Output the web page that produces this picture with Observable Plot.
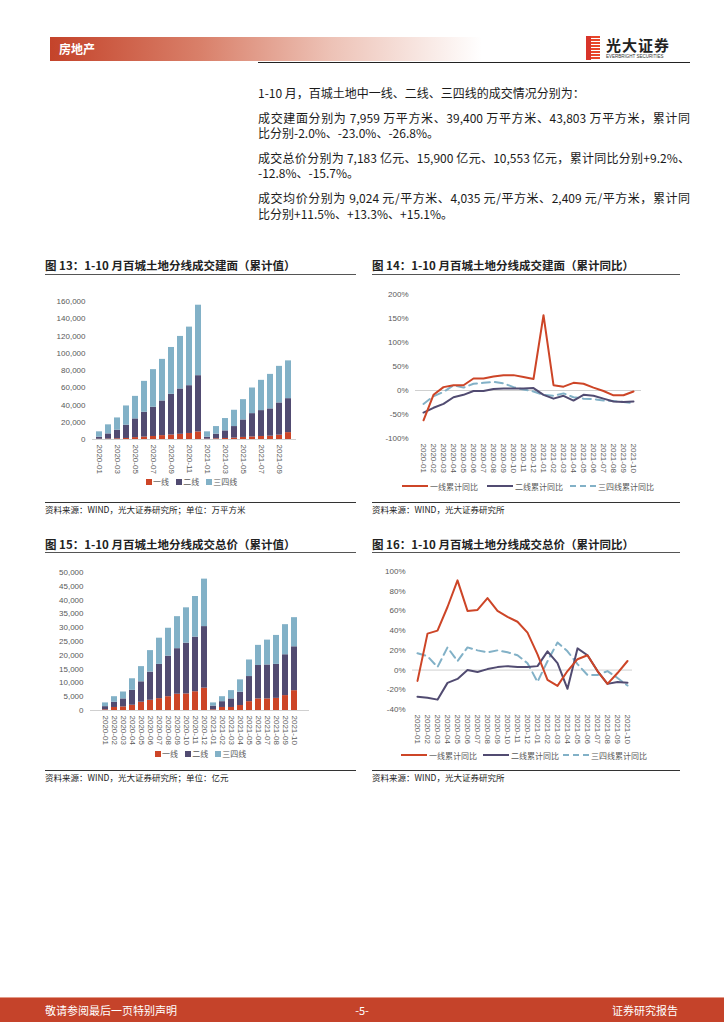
<!DOCTYPE html>
<html><head><meta charset="utf-8">
<script src="https://cdn.jsdelivr.net/npm/d3@7"></script>
<script src="https://cdn.jsdelivr.net/npm/@observablehq/plot@0.6"></script>
<style>
body{margin:0;background:#fff;}
#page{position:relative;width:724px;height:1024px;overflow:hidden;font-family:"Noto Sans CJK SC","Noto Sans",sans-serif;color:#1a1a1a;}
.abs{position:absolute;}
.p{position:absolute;left:258px;font-size:12px;line-height:16px;white-space:nowrap;}
.j{width:432px;text-align:justify;text-align-last:justify;white-space:normal;}
.title{position:absolute;font-size:11.5px;font-weight:bold;color:#222;white-space:nowrap;line-height:16px;}
.hr{position:absolute;height:1px;background:#555;}
.src{position:absolute;font-size:8.5px;color:#222;white-space:nowrap;line-height:12px;}
.leg{position:absolute;font-size:8px;color:#595959;white-space:nowrap;line-height:10px;font-family:"Noto Sans CJK SC",sans-serif;}
.sw{display:inline-block;width:6px;height:6px;margin-right:1px;vertical-align:0px;}
.ln{display:inline-block;width:26px;height:0;vertical-align:3px;margin-right:2px;}
</style></head>
<body><div id="page">
<!-- header -->
<div class="abs" style="left:50px;top:37px;width:432px;height:24px;background:linear-gradient(to right,#c4432a 0%,#d9806a 35%,#edc2b6 65%,#ffffff 100%);"></div>
<div class="abs" style="left:59px;top:41px;font-size:12px;font-weight:bold;color:#fff;line-height:16px;">房地产</div>
<div class="abs" style="left:258px;top:62px;width:432px;height:1px;background:#222;"></div>
<div class="abs" style="left:586px;top:36px;width:14px;height:24px;background:repeating-linear-gradient(to bottom,#e8462a 0px,#e8462a 2px,#ffffff 2px,#ffffff 3px);"></div>
<div class="abs" style="left:586px;top:36px;width:5px;height:24px;background:#d8342a;"></div>
<div class="abs" style="left:606px;top:37px;font-size:15px;font-weight:bold;color:#222;line-height:16px;letter-spacing:1px;">光大证券</div>
<div class="abs" style="left:606px;top:54px;font-size:4.5px;color:#333;line-height:6px;font-family:'Liberation Sans',sans-serif;">EVERBRIGHT SECURITIES</div>

<!-- paragraphs -->
<div class="p" style="top:85px;">1-10 月，百城土地中一线、二线、三四线的成交情况分别为：</div>
<div class="p j" style="top:110px;">成交建面分别为 7,959 万平方米、39,400 万平方米、43,803 万平方米，累计同</div>
<div class="p" style="top:125px;">比分别-2.0%、-23.0%、-26.8%。</div>
<div class="p j" style="top:150px;">成交总价分别为 7,183 亿元、15,900 亿元、10,553 亿元，累计同比分别+9.2%、</div>
<div class="p" style="top:165px;">-12.8%、-15.7%。</div>
<div class="p j" style="top:190px;">成交均价分别为 9,024 元/平方米、4,035 元/平方米、2,409 元/平方米，累计同</div>
<div class="p" style="top:206px;">比分别+11.5%、+13.3%、+15.1%。</div>

<!-- chart titles -->
<div class="title" style="left:45px;top:257px;">图 13：1-10 月百城土地分线成交建面（累计值）</div>
<div class="hr" style="left:45px;top:274px;width:311px;"></div>
<div class="title" style="left:372px;top:257px;">图 14：1-10 月百城土地分线成交建面（累计同比）</div>
<div class="hr" style="left:372px;top:274px;width:308px;"></div>
<div class="title" style="left:45px;top:536px;">图 15：1-10 月百城土地分线成交总价（累计值）</div>
<div class="hr" style="left:45px;top:552px;width:311px;"></div>
<div class="title" style="left:372px;top:536px;">图 16：1-10 月百城土地分线成交总价（累计同比）</div>
<div class="hr" style="left:372px;top:552px;width:308px;"></div>

<div class="abs" id="c13" style="left:40px;top:280px;"></div>
<div class="abs" id="c14" style="left:365px;top:280px;"></div>
<div class="abs" id="c15" style="left:40px;top:555px;"></div>
<div class="abs" id="c16" style="left:365px;top:555px;"></div>

<!-- legends -->
<div class="leg" style="left:146px;top:477px;"><span class="sw" style="background:#cd4527"></span>一线&nbsp;&nbsp;&nbsp;&nbsp;<span class="sw" style="background:#514b71"></span>二线&nbsp;&nbsp;&nbsp;&nbsp;<span class="sw" style="background:#82b1c7"></span>三四线</div>
<div class="leg" style="left:155px;top:749px;"><span class="sw" style="background:#cd4527"></span>一线&nbsp;&nbsp;&nbsp;&nbsp;<span class="sw" style="background:#514b71"></span>二线&nbsp;&nbsp;&nbsp;&nbsp;<span class="sw" style="background:#82b1c7"></span>三四线</div>
<div class="leg" style="left:402px;top:482px;"><span class="ln" style="border-top:2px solid #cd4527"></span>一线累计同比</div>
<div class="leg" style="left:487px;top:482px;"><span class="ln" style="border-top:2px solid #514b71"></span>二线累计同比</div>
<div class="leg" style="left:570px;top:482px;"><span class="ln" style="border-top:2px dashed #82b1c7"></span>三四线累计同比</div>
<div class="leg" style="left:401px;top:751px;"><span class="ln" style="border-top:2px solid #cd4527"></span>一线累计同比</div>
<div class="leg" style="left:483px;top:751px;"><span class="ln" style="border-top:2px solid #514b71"></span>二线累计同比</div>
<div class="leg" style="left:563px;top:751px;"><span class="ln" style="border-top:2px dashed #82b1c7"></span>三四线累计同比</div>

<!-- sources -->
<div class="hr" style="left:45px;top:502px;width:311px;background:#333;"></div>
<div class="src" style="left:45px;top:503px;">资料来源：WIND，光大证券研究所；单位：万平方米</div>
<div class="hr" style="left:372px;top:502px;width:308px;background:#333;"></div>
<div class="src" style="left:372px;top:503px;">资料来源：WIND，光大证券研究所</div>
<div class="hr" style="left:45px;top:770px;width:311px;background:#333;"></div>
<div class="src" style="left:45px;top:771px;">资料来源：WIND，光大证券研究所；单位：亿元</div>
<div class="hr" style="left:372px;top:770px;width:308px;background:#333;"></div>
<div class="src" style="left:372px;top:771px;">资料来源：WIND，光大证券研究所</div>

<!-- footer -->
<div class="abs" style="left:0;top:997px;width:724px;height:1px;background:#e39a88;"></div>
<div class="abs" style="left:0;top:998px;width:724px;height:24px;background:#c5432a;"></div>
<div class="abs" style="left:45px;top:1002px;font-size:11px;color:#fff;line-height:16px;">敬请参阅最后一页特别声明</div>
<div class="abs" style="left:352px;top:1002px;width:20px;text-align:center;font-size:11px;color:#fff;line-height:16px;">-5-</div>
<div class="abs" style="left:612px;top:1002px;font-size:11px;color:#fff;line-height:16px;">证券研究报告</div>
</div>
<script>
const RED = "#cd4527", DARK = "#514b71", LIGHT = "#82b1c7";
const tiers = ["一线", "二线", "三四线"];
const months = ["2020-01","2020-02","2020-03","2020-04","2020-05","2020-06","2020-07","2020-08","2020-09","2020-10","2020-11","2020-12",
  "2021-01","2021-02","2021-03","2021-04","2021-05","2021-06","2021-07","2021-08","2021-09","2021-10"];
const areaTicks = ["2020-01","2020-03","2020-05","2020-07","2020-09","2020-11","2021-01","2021-03","2021-05","2021-07","2021-09"];
// 图13 成交建面 累计值（万平方米）
const area1 = [300,500,800,1200,2200,2800,3500,4500,5200,6000,7000,8800,400,800,1200,1600,2400,3000,3500,3800,5000,7959];
const area2 = [2400,6000,10000,15400,21700,28800,33900,40200,47200,52600,55400,65200,2300,5400,8800,13400,20300,27000,30000,31700,37400,39400];
const area3 = [6200,10500,14200,22300,26100,35800,43600,48200,54300,60900,67900,81700,6200,8800,14300,18900,23500,29700,35100,40000,42400,43803];
// 图14 成交建面 累计同比（%）
const areaYoy1 = [-62,-9,7,11,11,25,25,29,32,32,28,24,157,11,8,16,14,6,-1,-10,-10,-2];
const areaYoy2 = [-46,-36,-28,-14,-9,-1,-1,3,4,4,4,5,-9,-17,-11,-21,-9,-11,-17,-23,-24,-23];
const areaYoy3 = [-28,-12,-3,11,6,14,16,18,15,7,2,-2,-9,-11,-6,-14,-17,-18,-21,-22,-24,-26.8];
// 图15 成交总价 累计值（亿元）
const price1 = [250,1100,1300,1900,3000,3700,4300,5000,5900,6000,6800,8100,250,1100,1100,1800,3200,4200,4200,4400,5400,7183];
const price2 = [1150,1900,2900,5400,7400,10200,12400,14700,16500,18400,19800,22300,1350,2100,3100,4800,9100,12100,12300,12300,14800,15900];
const price3 = [1350,2000,2500,4200,5500,7800,9500,10100,11600,12800,14700,17200,1150,1800,3000,4500,6000,7300,9000,10500,10900,10553];
// 图16 成交总价 累计同比（%）
const priceYoy1 = [-11,37,40,64,91,60,61,73,60,54,49,38,16,-10,-16,-1,11,15,-1,-14,-3,9.2];
const priceYoy2 = [-27,-28,-30,-13,-9,0,-2,1,3,4,3,3,4,19,7,-19,22,15,-1,-14,-12,-12.8];
const priceYoy3 = [17,14,3,23,9,23,20,18,20,18,15,7,-12,9,28,19,6,-5,-5,-1,-8,-15.7];

const style = {fontFamily: "'Liberation Sans', Arial, sans-serif", fontSize: "8px", color: "#595959", background: "transparent", overflow: "visible"};

function stacked(a, b, c) {
  return months.flatMap((m, i) => [
    {m, tier: tiers[0], v: a[i]}, {m, tier: tiers[1], v: b[i]}, {m, tier: tiers[2], v: c[i]}
  ]);
}
function series(a, b, c) {
  return months.flatMap((m, i) => [
    {m, s: tiers[0], v: a[i]}, {m, s: tiers[1], v: b[i]}, {m, s: tiers[2], v: c[i]}
  ]);
}

function barChart(el, data, opt) {
  const chart = Plot.plot({
    width: 300, height: 215, style,
    marginLeft: opt.ml, marginRight: opt.mr, marginTop: opt.mt, marginBottom: opt.mb,
    x: {type: "band", domain: months, paddingInner: 0.33, paddingOuter: opt.po, axis: null},
    y: {domain: opt.yDomain, axis: null},
    color: {domain: tiers, range: [RED, DARK, LIGHT]},
    marks: [
      Plot.axisY({ticks: opt.yTicks, tickSize: 0, tickPadding: 7, tickFormat: d3.format(","), fill: "#595959", label: null}),
      Plot.ruleY([0], {stroke: "#d0d0d0"}),
      Plot.barY(data, {x: "m", y: "v", fill: "tier", order: tiers}),
      Plot.axisX({ticks: opt.xTicks, tickSize: 0, tickPadding: 5, tickRotate: 90, fill: "#595959", label: null})
    ]
  });
  document.getElementById(el).append(chart);
}

function lineChart(el, data, opt) {
  const chart = Plot.plot({
    width: 325, height: 215, style,
    marginLeft: opt.ml, marginRight: opt.mr, marginTop: opt.mt, marginBottom: opt.mb,
    x: {type: "point", domain: months, padding: 0.5, axis: null},
    y: {domain: opt.yDomain, axis: null},
    marks: [
      Plot.axisY({ticks: opt.yTicks, tickSize: 0, tickPadding: 7, tickFormat: d => d + "%", fill: "#595959", label: null}),
      Plot.ruleY([0], {stroke: "#d0d0d0"}),
      Plot.line(data.filter(d => d.s === tiers[2]), {x: "m", y: "v", stroke: LIGHT, strokeWidth: 2, strokeDasharray: "8,5"}),
      Plot.line(data.filter(d => d.s === tiers[1]), {x: "m", y: "v", stroke: DARK, strokeWidth: 2, strokeLinejoin: "round"}),
      Plot.line(data.filter(d => d.s === tiers[0]), {x: "m", y: "v", stroke: RED, strokeWidth: 2, strokeLinejoin: "round"}),
      Plot.axisX({ticks: months, tickSize: 0, tickPadding: 5, tickRotate: 90, fill: "#595959", label: null})
    ]
  });
  document.getElementById(el).append(chart);
}

barChart("c13", stacked(area1, area2, area3), {
  ml: 52, mr: 44, mt: 21, mb: 56, po: 0.27,
  yDomain: [0, 160000], yTicks: d3.range(0, 160001, 20000), xTicks: areaTicks
});
lineChart("c14", series(areaYoy1, areaYoy2, areaYoy3), {
  ml: 50, mr: 49, mt: 14, mb: 57,
  yDomain: [-100, 200], yTicks: d3.range(-100, 201, 50)
});
barChart("c15", stacked(price1, price2, price3), {
  ml: 50, mr: 31, mt: 17, mb: 60, po: 0.3,
  yDomain: [0, 50000], yTicks: d3.range(0, 50001, 5000), xTicks: months
});
lineChart("c16", series(priceYoy1, priceYoy2, priceYoy3), {
  ml: 47, mr: 58, mt: 16, mb: 61,
  yDomain: [-40, 100], yTicks: d3.range(-40, 101, 20)
});
</script>
</body></html>
